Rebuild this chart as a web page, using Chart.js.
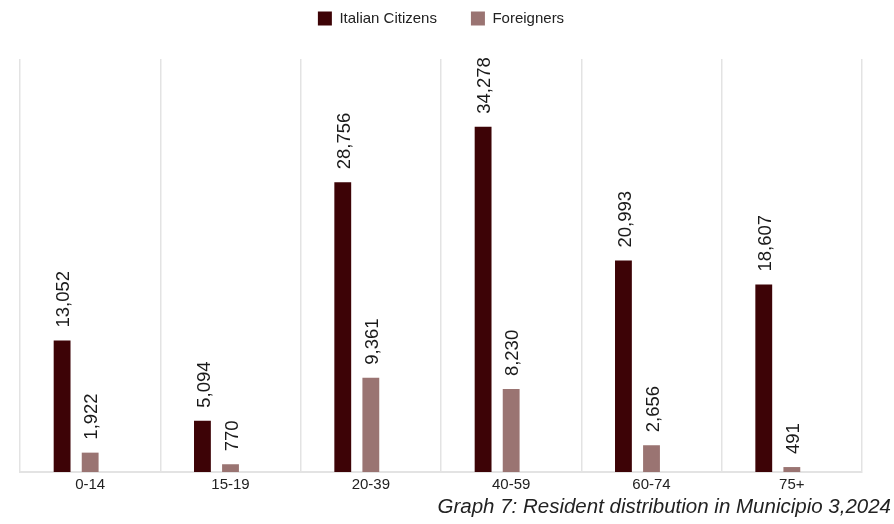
<!DOCTYPE html>
<html>
<head>
<meta charset="utf-8">
<script src="https://cdn.jsdelivr.net/npm/chart.js@4/dist/chart.umd.min.js"></script>
<style>
  html, body { margin: 0; padding: 0; background: #fff; }
  #wrap { width: 894px; height: 524px; position: relative; }
</style>
</head>
<body>
<div id="wrap"><canvas id="chart1"></canvas></div>
<script>
// residents of Municipio 3 by age band, 2024
var ageBands = ["0-14", "15-19", "20-39", "40-59", "60-74", "75+"];
var italianCitizens = [13052, 5094, 28756, 34278, 20993, 18607];
var foreigners = [1922, 770, 9361, 8230, 2656, 491];
var captionText = "Graph 7: Resident distribution in Municipio 3,2024";

var sans = "'Liberation Sans', Arial, sans-serif";

// rotated value labels above every bar
var valueLabels = {
    id: 'valueLabels',
    afterDatasetsDraw: function(chart) {
        var ctx = chart.ctx;
        ctx.save();
        ctx.font = "18.5px " + sans;
        ctx.fillStyle = '#1a1a1a';
        ctx.textAlign = 'left';
        ctx.textBaseline = 'middle';
        chart.data.datasets.forEach(function(ds, i) {
            if (!ds.label) return;
            chart.getDatasetMeta(i).data.forEach(function(bar, j) {
                ctx.save();
                ctx.translate(bar.x + 2, bar.y - 13);
                ctx.rotate(-Math.PI / 2);
                ctx.fillText(ds.data[j].toLocaleString('en-US'), 0, 0);
                ctx.restore();
            });
        });
        ctx.restore();
    }
};

// legend sits closer to the top edge than its padding would allow
var legendLift = {
    id: 'legendLift',
    afterLayout: function(chart) {
        if (chart.legend) {
            chart.legend.top -= 23;
            chart.legend.bottom -= 23;
        }
    }
};

// caption in the bottom right corner
var caption = {
    id: 'caption',
    afterDraw: function(chart) {
        var ctx = chart.ctx;
        ctx.save();
        ctx.font = "italic 20.5px " + sans;
        ctx.fillStyle = '#222';
        ctx.textAlign = 'right';
        ctx.textBaseline = 'middle';
        ctx.fillText(captionText, chart.width - 3, chart.height - 17);
        ctx.restore();
    }
};

var ctx = document.getElementById("chart1").getContext('2d');
var chart1 = new Chart(ctx, {
    type: 'bar',
    data: {
        labels: ageBands,
        datasets: [{
            label: 'Italian Citizens',
            data: italianCitizens,
            backgroundColor: '#3d0306'
        }, {
            label: 'Foreigners',
            data: foreigners,
            backgroundColor: '#9a7472'
        }, {
            // empty slot that keeps the pair left of centre
            label: '',
            data: [],
            backgroundColor: 'rgba(0,0,0,0)'
        }]
    },
    options: {
        responsive: true,
        maintainAspectRatio: false,
        animation: false,
        categoryPercentage: 0.6,
        barPercentage: 0.6,
        layout: { padding: { left: 20, right: 32, top: 0, bottom: 26 } },
        plugins: {
            legend: {
                position: 'top',
                labels: {
                    filter: function(item) { return item.text !== ''; },
                    boxWidth: 14,
                    boxHeight: 14,
                    padding: 34,
                    color: '#222',
                    font: { family: sans, size: 15 }
                }
            },
            tooltip: { enabled: false }
        },
        scales: {
            x: {
                grid: { color: '#e3e3e3', lineWidth: 1.5, drawTicks: false, offset: true },
                border: { color: '#e3e3e3', width: 2 },
                ticks: { color: '#222', padding: 4, font: { family: sans, size: 15 } }
            },
            y: {
                display: false,
                min: 0,
                max: 41000
            }
        }
    },
    plugins: [valueLabels, legendLift, caption]
});
</script>
</body>
</html>
